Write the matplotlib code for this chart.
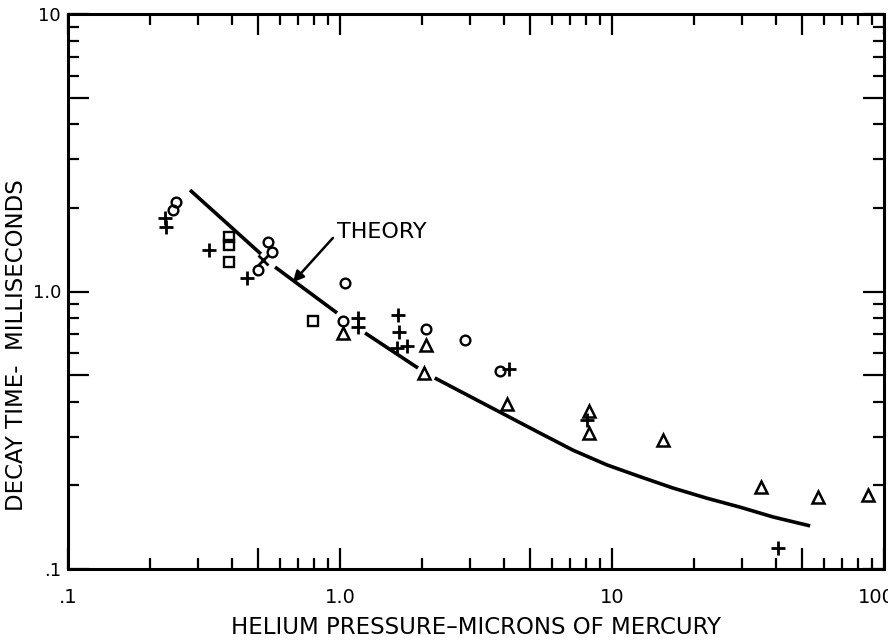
import matplotlib.pyplot as plt
import numpy as np
from matplotlib.ticker import FixedLocator, FixedFormatter, NullFormatter
from matplotlib.transforms import ScaledTranslation

# -----------------------------------------------------------------------------
# Data: pressure (microns Hg) vs decay time (ms)
# -----------------------------------------------------------------------------
plus_p = [0.228, 0.229, 0.330, 0.455, 1.16, 1.16, 1.63, 1.65, 1.62, 1.76, 4.18, 8.09, 40.7]
plus_t = [1.84, 1.71, 1.41, 1.12, 0.803, 0.745, 0.823, 0.714, 0.626, 0.637, 0.526, 0.344, 0.119]

cross_p = [0.521]
cross_t = [1.30]

circle_p = [0.249, 0.243, 0.543, 0.562, 0.500, 1.04, 1.03, 2.07, 2.88, 3.87]
circle_t = [2.10, 1.97, 1.51, 1.39, 1.195, 1.07, 0.783, 0.733, 0.668, 0.517]

square_p = [0.391, 0.391, 0.391, 0.796]
square_t = [1.57, 1.47, 1.28, 0.783]

tri_p = [1.03, 2.07, 2.04, 4.11, 8.22, 8.22, 15.4, 35.3, 57.2, 87.3]
tri_t = [0.708, 0.641, 0.508, 0.393, 0.371, 0.309, 0.292, 0.1975, 0.182, 0.185]

# theory curve, broken where it passes the data symbols
theory_p = [0.281, 0.512, np.nan, 0.577, 0.975, np.nan, 1.236, 1.935, np.nan,
            2.23, 3.19, 5.43, 7.19, 9.60, 12.7, 16.7, 22.3, 29.6, 39.1, 53.5]
theory_t = [2.32, 1.365, np.nan, 1.225, 0.837, np.nan, 0.709, 0.530, np.nan,
            0.488, 0.406, 0.309, 0.268, 0.237, 0.215, 0.196, 0.180, 0.167, 0.154, 0.143]

x_major = [0.1, 0.5, 1, 5, 10, 50, 100]
x_labels = [".1", "", "1.0", "", "10", "", "100"]
y_major = [0.1, 0.5, 1, 5, 10]
y_labels = [".1", "", "1.0", "", "10"]

# -----------------------------------------------------------------------------
# Figure
# -----------------------------------------------------------------------------
plt.rcParams["font.family"] = "DejaVu Sans"

fig = plt.figure(figsize=(8.88, 6.41), dpi=100)
ax = fig.add_axes([68 / 888, 1 - 569 / 641, 816 / 888, 555 / 641])
ax.set_xscale("log")
ax.set_yscale("log")
ax.set_xlim(0.1, 100)
ax.set_ylim(0.1, 10)

ax.plot(theory_p, theory_t, color="black", lw=2.6, solid_capstyle="butt")

mk = dict(linestyle="none", color="black", markerfacecolor="none")
ax.plot(plus_p, plus_t, marker="+", ms=10, mew=2.0, **mk)
ax.plot(cross_p, cross_t, marker="x", ms=7, mew=2.0, **mk)
ax.plot(circle_p, circle_t, marker="o", ms=7, mew=1.7, **mk)
ax.plot(square_p, square_t, marker="s", ms=6.5, mew=1.7, **mk)
ax.plot(tri_p, tri_t, marker="^", ms=8, mew=1.8, **mk)

ax.annotate("", xy=(0.671, 1.08), xytext=(0.942, 1.56),
            arrowprops=dict(arrowstyle="-|>", color="black", lw=1.8,
                            mutation_scale=16, shrinkA=0, shrinkB=0))
ax.text(0.975, 1.64, "THEORY", ha="left", va="center", fontsize=16)

# ticks: inward on all four sides, long at 1 and 5 multiples
ax.xaxis.set_major_locator(FixedLocator(x_major))
ax.xaxis.set_major_formatter(FixedFormatter(x_labels))
ax.yaxis.set_major_locator(FixedLocator(y_major))
ax.yaxis.set_major_formatter(FixedFormatter(y_labels))
minor = [d * m for d in (0.1, 1, 10) for m in (2, 3, 4, 6, 7, 8, 9)]
ax.xaxis.set_minor_locator(FixedLocator(minor))
ax.yaxis.set_minor_locator(FixedLocator([v for v in minor if v < 10]))
ax.xaxis.set_minor_formatter(NullFormatter())
ax.yaxis.set_minor_formatter(NullFormatter())

ax.tick_params(which="both", direction="in", top=True, right=True, width=1.6)
ax.tick_params(which="major", length=15)
ax.tick_params(which="minor", length=8)
ax.tick_params(axis="x", which="major", pad=14, labelsize=14)
ax.tick_params(axis="y", which="major", pad=5, labelsize=13)
for s in ax.spines.values():
    s.set_linewidth(2.2)

# the "100" label sits a little left of its tick, as in the original
last = ax.xaxis.get_major_ticks()[-1].label1
last.set_transform(last.get_transform() + ScaledTranslation(-8 / 100, 0, fig.dpi_scale_trans))

fig.text(476 / 888, 1 - 628 / 641, "HELIUM PRESSURE\u2013MICRONS OF MERCURY",
         ha="center", va="center", fontsize=16.5)
fig.text(17 / 888, 1 - 345 / 641, "DECAY TIME-  MILLISECONDS",
         ha="center", va="center", rotation=90, fontsize=16.5)

fig.savefig("out.png", dpi=100)
